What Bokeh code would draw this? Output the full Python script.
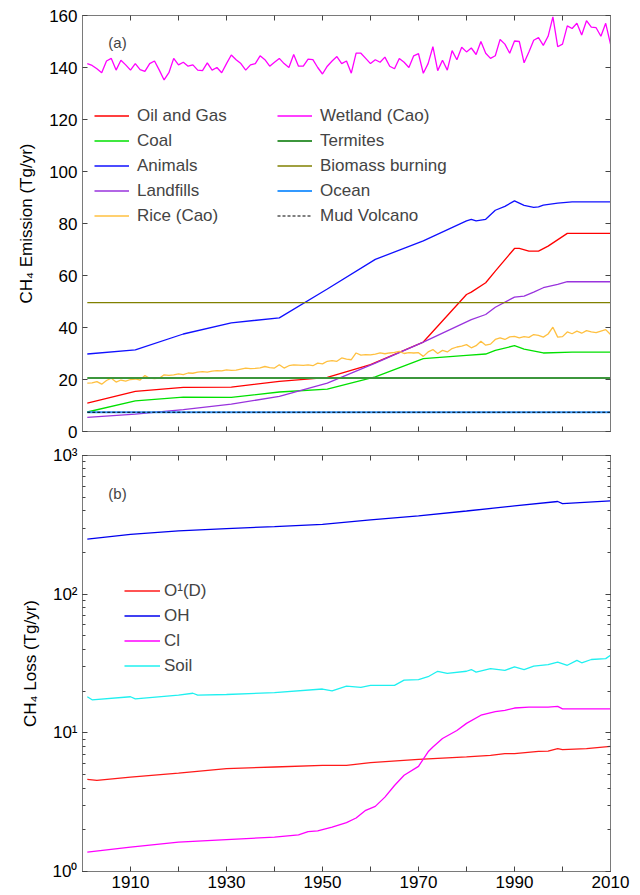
from bokeh.plotting import figure
from bokeh.models import (Range1d, LinearAxis, LogAxis, FixedTicker, LogTicker,
                          Legend, LegendItem, Label)
from bokeh.layouts import column
from bokeh.embed import file_html
from bokeh.resources import INLINE

FONT = "Liberation Sans"

# ---------------- data: panel (a) emissions (Tg/yr) ----------------
years_annual = list(range(1901, 2011))

wetland = [141.5, 140.8, 139.5, 138.0, 142.5, 143.5, 139.0, 142.8, 141.0, 139.0,
           141.5, 139.2, 138.5, 141.5, 142.5, 139.0, 135.2, 138.0, 143.5, 141.0,
           142.0, 140.5, 141.0, 139.0, 138.8, 141.8, 139.0, 140.0, 138.0, 141.5,
           144.8, 143.0, 141.5, 139.0, 141.0, 141.5, 144.5, 143.0, 140.5, 142.0,
           143.5, 141.5, 140.0, 145.0, 140.5, 140.5, 143.2, 143.0, 140.0, 137.5,
           140.5, 142.5, 144.2, 141.5, 142.5, 137.8, 145.5, 145.5, 143.5, 141.5,
           143.0, 142.0, 144.0, 140.5, 139.5, 143.5, 142.0, 140.0, 144.5, 145.3,
           137.8, 141.5, 148.0, 138.8, 142.8, 139.0, 146.5, 143.0, 147.8, 146.0,
           147.5, 145.0, 150.0, 145.5, 143.5, 144.5, 150.8, 149.0, 145.5, 150.2,
           150.0, 141.8, 146.0, 150.5, 151.5, 148.5, 152.0, 159.5, 148.0, 149.0,
           156.0, 155.0, 157.0, 152.5, 158.0, 155.5, 155.3, 152.0, 157.0, 149.0]

rice = [18.6, 18.7, 19.2, 18.2, 19.6, 20.5, 19.0, 19.8, 19.4, 20.0,
        20.2, 19.8, 21.5, 20.5, 20.3, 20.5, 21.8, 21.6, 21.8, 22.2,
        21.9, 22.5, 22.4, 22.8, 23.0, 22.8, 23.2, 23.4, 23.3, 23.7,
        23.5, 23.6, 24.0, 24.4, 24.2, 24.3, 24.5, 25.0, 24.6, 24.4,
        25.7, 24.4, 25.3, 25.6, 25.5, 25.4, 25.6, 25.3, 26.3, 26.0,
        27.0, 27.3, 27.0, 28.3, 27.8, 27.6, 30.2, 29.4, 29.6, 29.5,
        29.8, 30.2, 29.9, 30.2, 30.4, 30.8, 30.0, 30.3, 30.2, 30.3,
        28.9, 30.6, 31.5, 30.0, 31.2, 30.6, 31.9, 32.5, 32.8, 33.4,
        32.2, 33.0, 34.7, 33.2, 33.6, 35.4, 36.0, 35.4, 36.4, 36.6,
        36.0, 36.5, 36.2, 37.3, 37.0, 36.3, 37.5, 40.1, 36.3, 36.5,
        38.3, 37.6, 38.6, 37.8, 38.8, 38.3, 38.0, 38.6, 39.2, 37.3]

oil_years = [1901, 1911, 1921, 1931, 1941, 1950, 1951, 1960, 1971, 1980, 1981, 1984,
             1986, 1990, 1991, 1993, 1995, 1997, 2001, 2010]
oil_gas = [10.9, 15.4, 17.0, 17.1, 19.3, 20.6, 20.8, 25.7, 34.4, 52.7, 53.6, 57.2,
           61.7, 70.4, 70.4, 69.4, 69.4, 71.3, 76.2, 76.2]

coal_years = [1901, 1911, 1921, 1931, 1941, 1951, 1961, 1971, 1980, 1984, 1986, 1990,
              1992, 1996, 2002, 2010]
coal = [7.5, 11.8, 13.2, 13.1, 15.2, 16.3, 21.0, 28.0, 29.3, 29.8, 31.2, 33.0,
        31.7, 30.2, 30.5, 30.5]

animal_years = [1901, 1911, 1921, 1931, 1941, 1951, 1961, 1971, 1980, 1981, 1982, 1984,
                1986, 1988, 1990, 1992, 1994, 1995, 1996, 1999, 2002, 2010]
animals = [29.8, 31.4, 37.5, 41.8, 43.7, 54.8, 66.2, 73.3, 81.0, 81.6, 81.0, 81.6,
           85.1, 86.6, 88.7, 87.0, 86.2, 86.4, 87.1, 87.8, 88.3, 88.3]

landfill_years = [1901, 1911, 1921, 1931, 1941, 1951, 1961, 1971, 1981, 1984, 1986,
                  1990, 1992, 1994, 1996, 1999, 2001, 2010]
landfills = [5.4, 6.7, 8.4, 10.5, 13.5, 18.6, 26.3, 34.4, 43.0, 45.0, 47.8,
             51.7, 52.1, 53.6, 55.3, 56.6, 57.6, 57.6]

flat_years = [1901, 2010]
termites = [20.6, 20.6]
biomass = [49.6, 49.6]
ocean = [7.4, 7.4]
mud_volcano = [7.4, 7.4]

# ---------------- data: panel (b) losses (Tg/yr) ----------------
oh_years = [1901, 1910, 1920, 1930, 1940, 1950, 1960, 1970, 1980, 1990, 1999, 2000, 2010]
oh = [249, 270, 286, 297, 307, 319, 343, 367, 398, 433, 466, 450, 471]

soil_years = [1901, 1902, 1910, 1911, 1920, 1923, 1924, 1930, 1940, 1950, 1952, 1955,
              1958, 1960, 1965, 1967, 1970, 1972, 1974, 1976, 1980, 1981, 1982, 1985,
              1988, 1990, 1992, 1994, 1997, 1999, 2001, 2003, 2004, 2006, 2009, 2010]
soil = [18.2, 17.3, 18.2, 17.6, 18.7, 19.3, 18.7, 18.9, 19.5, 20.7, 20.1, 21.7,
        21.3, 22.0, 22.0, 24.0, 24.2, 25.4, 27.8, 26.8, 27.8, 28.6, 27.4, 29.0,
        28.2, 29.9, 28.6, 30.3, 31.0, 32.4, 30.7, 33.3, 32.0, 33.8, 34.3, 36.3]

cl_years = [1901, 1910, 1920, 1930, 1940, 1945, 1947, 1949, 1952, 1955, 1957, 1959,
            1961, 1963, 1965, 1967, 1970, 1972, 1973, 1975, 1978, 1980, 1983, 1986,
            1988, 1990, 1993, 1997, 1999, 2000, 2010]
cl = [1.38, 1.50, 1.63, 1.70, 1.77, 1.84, 1.94, 1.96, 2.09, 2.25, 2.43, 2.76,
      2.95, 3.44, 4.17, 4.94, 5.73, 7.3, 7.9, 9.1, 10.4, 11.7, 13.4, 14.2,
      14.5, 15.1, 15.3, 15.3, 15.5, 14.9, 14.9]

o1d_years = [1901, 1903, 1910, 1920, 1930, 1940, 1950, 1955, 1960, 1970, 1975, 1980,
             1985, 1988, 1990, 1995, 1997, 1999, 2000, 2005, 2010]
o1d = [4.62, 4.54, 4.80, 5.13, 5.52, 5.67, 5.83, 5.83, 6.09, 6.44, 6.58, 6.70,
       6.88, 7.07, 7.07, 7.35, 7.39, 7.70, 7.57, 7.70, 7.98]

x_ticks = list(range(1900, 2011, 10))
x_labelled = [1910, 1930, 1950, 1970, 1990, 2010]
x_unlabelled = [1900, 1920, 1940, 1960, 1980, 2000]
y_ticks_a = list(range(0, 161, 20))
log_labels = {1: "10\u2070", 10: "10\u00b9", 100: "10\u00b2", 1000: "10\u00b3"}

AXIS_COL = "#7a7a7a"
TICK_COL = "#444444"


def style_axis(ax):
    ax.axis_line_color = AXIS_COL
    ax.major_tick_line_color = TICK_COL
    ax.minor_tick_line_color = TICK_COL
    ax.major_tick_in = 5
    ax.major_tick_out = 0
    ax.minor_tick_in = 5
    ax.minor_tick_out = 0
    ax.major_label_text_font = FONT
    ax.major_label_text_font_size = "17px"
    ax.major_label_text_color = "black"
    ax.major_label_standoff = 5
    ax.axis_label_text_font = FONT
    ax.axis_label_text_font_style = "normal"
    ax.axis_label_text_font_size = "17px"
    ax.axis_label_text_color = "black"


def tick_only_axis(cls, marks):
    # an axis with tick marks only (no major ticks -> no labels)
    ax = cls(ticker=FixedTicker(ticks=[], minor_ticks=marks))
    style_axis(ax)
    return ax


def base_fig(height, top, bottom, y_log=False, y_range=None):
    p = figure(width=640, height=height, output_backend="svg", toolbar_location=None,
               x_range=Range1d(1900, 2010), y_range=y_range,
               y_axis_type="log" if y_log else "linear",
               min_border_left=82, min_border_right=30,
               min_border_top=top, min_border_bottom=bottom)
    p.grid.visible = False
    p.outline_line_color = AXIS_COL
    p.background_fill_color = "white"
    p.border_fill_color = "white"
    return p


# ---------------- panel (a) ----------------
pa = base_fig(443, 15, 12, y_range=Range1d(0, 160))
LW = 1.3
r_oil = pa.line(oil_years, oil_gas, color="#ff0000", line_width=LW)
r_coal = pa.line(coal_years, coal, color="#00e000", line_width=LW)
r_ani = pa.line(animal_years, animals, color="#1010ff", line_width=LW)
r_land = pa.line(landfill_years, landfills, color="#9933dd", line_width=LW)
r_rice = pa.line(years_annual, rice, color="#ffc040", line_width=LW)
r_wet = pa.line(years_annual, wetland, color="#ff00ff", line_width=LW)
r_ter = pa.line(flat_years, termites, color="#3c963c", line_width=2)
r_bio = pa.line(flat_years, biomass, color="#808000", line_width=LW)
r_oce = pa.line(flat_years, ocean, color="#3399ff", line_width=2)
r_mud = pa.line(flat_years, mud_volcano, color="black", line_width=1.2, line_dash="3 2")

pa.xaxis.ticker = FixedTicker(ticks=[], minor_ticks=x_ticks)
pa.yaxis.ticker = FixedTicker(ticks=y_ticks_a)
style_axis(pa.xaxis[0])
style_axis(pa.yaxis[0])
pa.yaxis.axis_label = "CH\u2084 Emission (Tg/yr)"
pa.yaxis.axis_label_standoff = 10

pa.add_layout(tick_only_axis(LinearAxis, y_ticks_a), "right")
pa.add_layout(tick_only_axis(LinearAxis, x_ticks), "above")

leg_kw = dict(label_text_font=FONT, label_text_font_size="17px",
              glyph_height=25, label_height=25, spacing=0, padding=0, margin=0,
              border_line_alpha=0, background_fill_alpha=0)
leg1 = Legend(items=[LegendItem(label="Oil and Gas", renderers=[r_oil]),
                     LegendItem(label="Coal", renderers=[r_coal]),
                     LegendItem(label="Animals", renderers=[r_ani]),
                     LegendItem(label="Landfills", renderers=[r_land]),
                     LegendItem(label="Rice (Cao)", renderers=[r_rice])],
              location=(12, 203), glyph_width=35, label_standoff=8, **leg_kw)
leg2 = Legend(items=[LegendItem(label="Wetland (Cao)", renderers=[r_wet]),
                     LegendItem(label="Termites", renderers=[r_ter]),
                     LegendItem(label="Biomass burning", renderers=[r_bio]),
                     LegendItem(label="Ocean", renderers=[r_oce]),
                     LegendItem(label="Mud Volcano", renderers=[r_mud])],
              location=(195, 203), glyph_width=35, label_standoff=8, **leg_kw)
pa.add_layout(leg1)
pa.add_layout(leg2)
pa.add_layout(Label(x=1907.3, y=149.5, text="(a)", text_font=FONT, text_font_size="15px",
                    text_align="center", text_baseline="middle"))

# ---------------- panel (b) ----------------
pb = base_fig(452, 12, 24, y_log=True, y_range=Range1d(1, 1000))
r_o1d = pb.line(o1d_years, o1d, color="#ff1a1a", line_width=LW)
r_oh = pb.line(oh_years, oh, color="#0000ee", line_width=LW)
r_cl = pb.line(cl_years, cl, color="#ff00ff", line_width=LW)
r_soil = pb.line(soil_years, soil, color="#1ff0f0", line_width=LW)

pb.xaxis.ticker = FixedTicker(ticks=x_labelled, minor_ticks=x_unlabelled)
style_axis(pb.xaxis[0])
pb.xaxis.major_label_standoff = 4
pb.yaxis.ticker = LogTicker(num_minor_ticks=10)
pb.yaxis.major_label_overrides = log_labels
style_axis(pb.yaxis[0])
pb.yaxis.minor_tick_in = 3
pb.yaxis.axis_label = "CH\u2084 Loss (Tg/yr)"
pb.yaxis.axis_label_standoff = 10

bx_r = LogAxis(ticker=LogTicker(num_minor_ticks=10))
style_axis(bx_r)
bx_r.minor_tick_in = 3
bx_r.major_label_text_color = None
bx_r.major_label_text_font_size = "1px"
bx_r.major_label_standoff = 0
pb.add_layout(bx_r, "right")
pb.add_layout(tick_only_axis(LinearAxis, x_ticks), "above")

leg3 = Legend(items=[LegendItem(label="O\u00b9(D)", renderers=[r_o1d]),
                     LegendItem(label="OH", renderers=[r_oh]),
                     LegendItem(label="Cl", renderers=[r_cl]),
                     LegendItem(label="Soil", renderers=[r_soil])],
              location=(42, 193), glyph_width=36, label_standoff=4, **leg_kw)
pb.add_layout(leg3)
pb.add_layout(Label(x=1907.3, y=532, text="(b)", text_font=FONT, text_font_size="15px",
                    text_align="center", text_baseline="middle"))

layout = column(pa, pb, spacing=0)
open("out.html", "w").write(file_html(layout, INLINE))
